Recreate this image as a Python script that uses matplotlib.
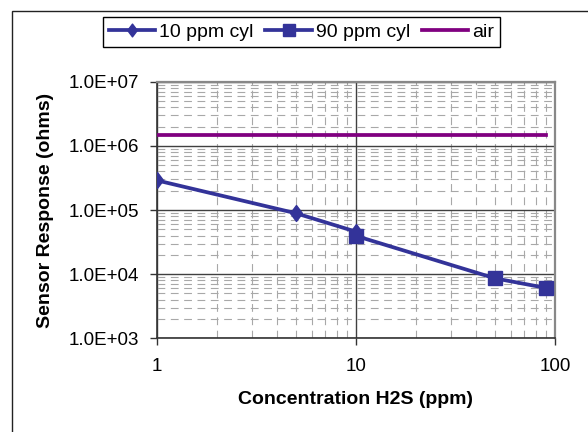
import matplotlib
matplotlib.use('Agg')
import matplotlib.pyplot as plt
from matplotlib.ticker import LogLocator, FuncFormatter, FixedLocator
from matplotlib.patches import Rectangle

plt.rcParams['font.family'] = ['Liberation Sans', 'DejaVu Sans']

x_10ppm = [1, 5, 10]
y_10ppm = [2.9e5, 8.9e4, 4.6e4]
x_90ppm = [10, 50, 90]
y_90ppm = [3.95e4, 8.6e3, 6.1e3]
x_air = [1, 90]
y_air = [1.5e6, 1.5e6]

x_ticks = [1, 10, 100]
y_ticks = [1e3, 1e4, 1e5, 1e6, 1e7]

blue = "#333399"
purple = "#800080"
diamond = [(-0.75, 0), (0, 1), (0.75, 0), (0, -1), (-0.75, 0)]

W, H = 588, 432
fig = plt.figure(figsize=(W / 100, H / 100), dpi=100)
ax = fig.add_axes([156.7 / W, 1 - 338.3 / H, (555 - 156.7) / W, (338.3 - 81.7) / H])

# outer chart border (right/bottom run off the image)
fig.patches.append(Rectangle((12 / W, -0.1), 1.2, 1 - 11 / H + 0.1, transform=fig.transFigure,
                             fill=False, edgecolor="#222222", linewidth=1.0))

ax.plot(x_10ppm, y_10ppm, color=blue, lw=2.7, marker=diamond, markersize=11.5,
        label="10 ppm cyl", zorder=5)
ax.plot(x_90ppm, y_90ppm, color=blue, lw=2.7, marker="s", markersize=10.5,
        label="90 ppm cyl", zorder=5)
ax.plot(x_air, y_air, color=purple, lw=2.7, label="air", zorder=4)

ax.set_xscale("log")
ax.set_yscale("log")
ax.set_xlim(1, 100)
ax.set_ylim(1e3, 1e7)

ax.xaxis.set_major_locator(FixedLocator(x_ticks))
ax.yaxis.set_major_locator(FixedLocator(y_ticks))
ax.xaxis.set_minor_locator(LogLocator(base=10, subs=range(2, 10)))
ax.yaxis.set_minor_locator(LogLocator(base=10, subs=range(2, 10)))
ax.xaxis.set_major_formatter(FuncFormatter(lambda v, p: f"{v:g}"))
ax.yaxis.set_major_formatter(FuncFormatter(lambda v, p: f"{v:.1E}"))
ax.xaxis.set_minor_formatter(FuncFormatter(lambda v, p: ""))
ax.yaxis.set_minor_formatter(FuncFormatter(lambda v, p: ""))

ax.grid(which="major", color="#404040", lw=1.0, ls="-")
ax.grid(which="minor", color="#a8a8a8", lw=0.8, ls=(0, (7, 5)))
ax.set_axisbelow(True)

ax.tick_params(which="major", direction="out", length=5, width=1, colors="#333333",
               labelcolor="black", labelsize=13.5)
ax.tick_params(axis="x", which="major", pad=9)
ax.tick_params(axis="y", which="major", pad=8)
ax.tick_params(which="minor", length=0)

for s in ["left", "bottom"]:
    ax.spines[s].set_color("#333333")
    ax.spines[s].set_linewidth(1.2)
for s in ["top", "right"]:
    ax.spines[s].set_color("#888888")
    ax.spines[s].set_linewidth(1.6)

fig.text(356 / W, 1 - 400 / H, "Concentration H2S (ppm)", ha="center", va="center",
         fontsize=14, fontweight="bold")
fig.text(46 / W, 1 - 210 / H, "Sensor Response (ohms)", ha="center", va="center",
         rotation=90, fontsize=14, fontweight="bold")

leg = fig.legend(loc="center", bbox_to_anchor=(301.5 / W, 1 - 32 / H), ncol=3,
                 fontsize=14, frameon=True, fancybox=False, edgecolor="black",
                 framealpha=1, borderpad=0.3, borderaxespad=0, handlelength=2.4,
                 handletextpad=0.2, columnspacing=0.6, markerscale=0.8)
leg.get_frame().set_linewidth(1.0)

fig.savefig("out.png", dpi=100)
